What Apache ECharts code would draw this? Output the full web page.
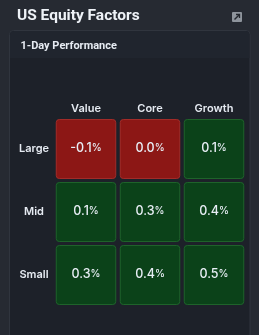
<!DOCTYPE html>
<html>
<head>
<meta charset="utf-8">
<script src="https://cdn.jsdelivr.net/npm/echarts@6/dist/echarts.min.js"></script>
<style>
html,body{margin:0;padding:0;background:#262a32;}
#c{width:259px;height:335px;}
</style>
</head>
<body>
<div id="c"></div>
<script>
const styles = ['Value', 'Core', 'Growth'];
const sizes = ['Large', 'Mid', 'Small'];
const largeVals = [-0.1, 0.0, 0.1];
const midVals = [0.1, 0.3, 0.4];
const smallVals = [0.3, 0.4, 0.5];
const negCells = [[0,0],[1,0]]; // cells shown red (Large Value, Large Core)

const rows = [largeVals, midVals, smallVals];
const data = [];
rows.forEach((r, yi) => r.forEach((v, xi) => {
  const neg = negCells.some(p => p[0] === xi && p[1] === yi);
  data.push([xi, yi, v, neg ? 1 : 0]);
}));

const chart = echarts.init(document.getElementById('c'), null, {renderer: 'canvas'});
const FONT = 'Inter, "Noto Sans", sans-serif';
const TFONT = 'Roboto, Inter, sans-serif';

chart.setOption({
  backgroundColor: '#262a32',
  animation: false,
  title: [
    {text: 'US Equity Factors', left: 12, top: 3.5,
     textStyle: {color: '#eef2f7', fontSize: 15.5, fontWeight: 'bold', fontFamily: TFONT}},
    {text: '1-Day Performance', left: 15.5, top: 35.5,
     textStyle: {color: '#e6ebf2', fontSize: 11, fontWeight: 'bold', fontFamily: TFONT}}
  ],
  graphic: [
    {type: 'rect', z: -10, shape: {x: 9.5, y: 30.5, width: 240.5, height: 320, r: 4},
     style: {fill: '#1d2129', stroke: '#30353e', lineWidth: 1}},
    {type: 'rect', z: -9, shape: {x: 10, y: 31, width: 239.5, height: 27, r: [4,4,0,0]},
     style: {fill: '#20252e'}},
    {type: 'rect', z: 5, shape: {x: 232, y: 12, width: 10, height: 10, r: 1},
     style: {fill: '#8e949c'}},
    {type: 'polyline', z: 6, shape: {points: [[234.5, 19.5], [239.5, 14.5]]},
     style: {stroke: '#23272e', lineWidth: 1.5}},
    {type: 'polyline', z: 6, shape: {points: [[236, 14.5], [239.5, 14.5], [239.5, 18]]},
     style: {stroke: '#23272e', lineWidth: 1.3, fill: null}}
  ],
  grid: {left: 54, top: 117.5, width: 192, height: 189},
  xAxis: {
    type: 'category', data: styles, position: 'top',
    axisLine: {show: false}, axisTick: {show: false}, splitLine: {show: false},
    axisLabel: {color: '#e6ebf2', fontSize: 11, fontWeight: 600, fontFamily: FONT, margin: 3}
  },
  yAxis: {
    type: 'category', data: sizes, inverse: true,
    axisLine: {show: false}, axisTick: {show: false}, splitLine: {show: false},
    axisLabel: {color: '#e6ebf2', fontSize: 11, fontWeight: 600, fontFamily: FONT,
                align: 'center', margin: 20}
  },
  series: [{
    type: 'custom',
    data: data,
    renderItem: function (params, api) {
      const x = api.value(0), y = api.value(1), v = api.value(2);
      const neg = api.value(3) === 1;
      const c = api.coord([x, y]);
      const s = api.size([1, 1]);
      const w = s[0] - 4.5, h = s[1] - 4;
      return {
        type: 'group',
        children: [
          {type: 'rect',
           shape: {x: c[0] - w / 2, y: c[1] - h / 2, width: w, height: h, r: 3},
           style: {fill: neg ? '#8c1715' : '#0b4219', stroke: neg ? '#a22b28' : '#1e632a', lineWidth: 1}},
          {type: 'text',
           style: {x: c[0], y: c[1] - 1, text: '{a|' + v.toFixed(1) + '}{b|%}',
                   align: 'center', verticalAlign: 'middle',
                   rich: {a: {fill: '#e8eef5', fontSize: 12.5, fontWeight: 500, fontFamily: FONT},
                          b: {fill: '#e8eef5', fontSize: 10, fontWeight: 500, fontFamily: FONT}}}}
        ]
      };
    }
  }]
});
</script>
</body>
</html>
